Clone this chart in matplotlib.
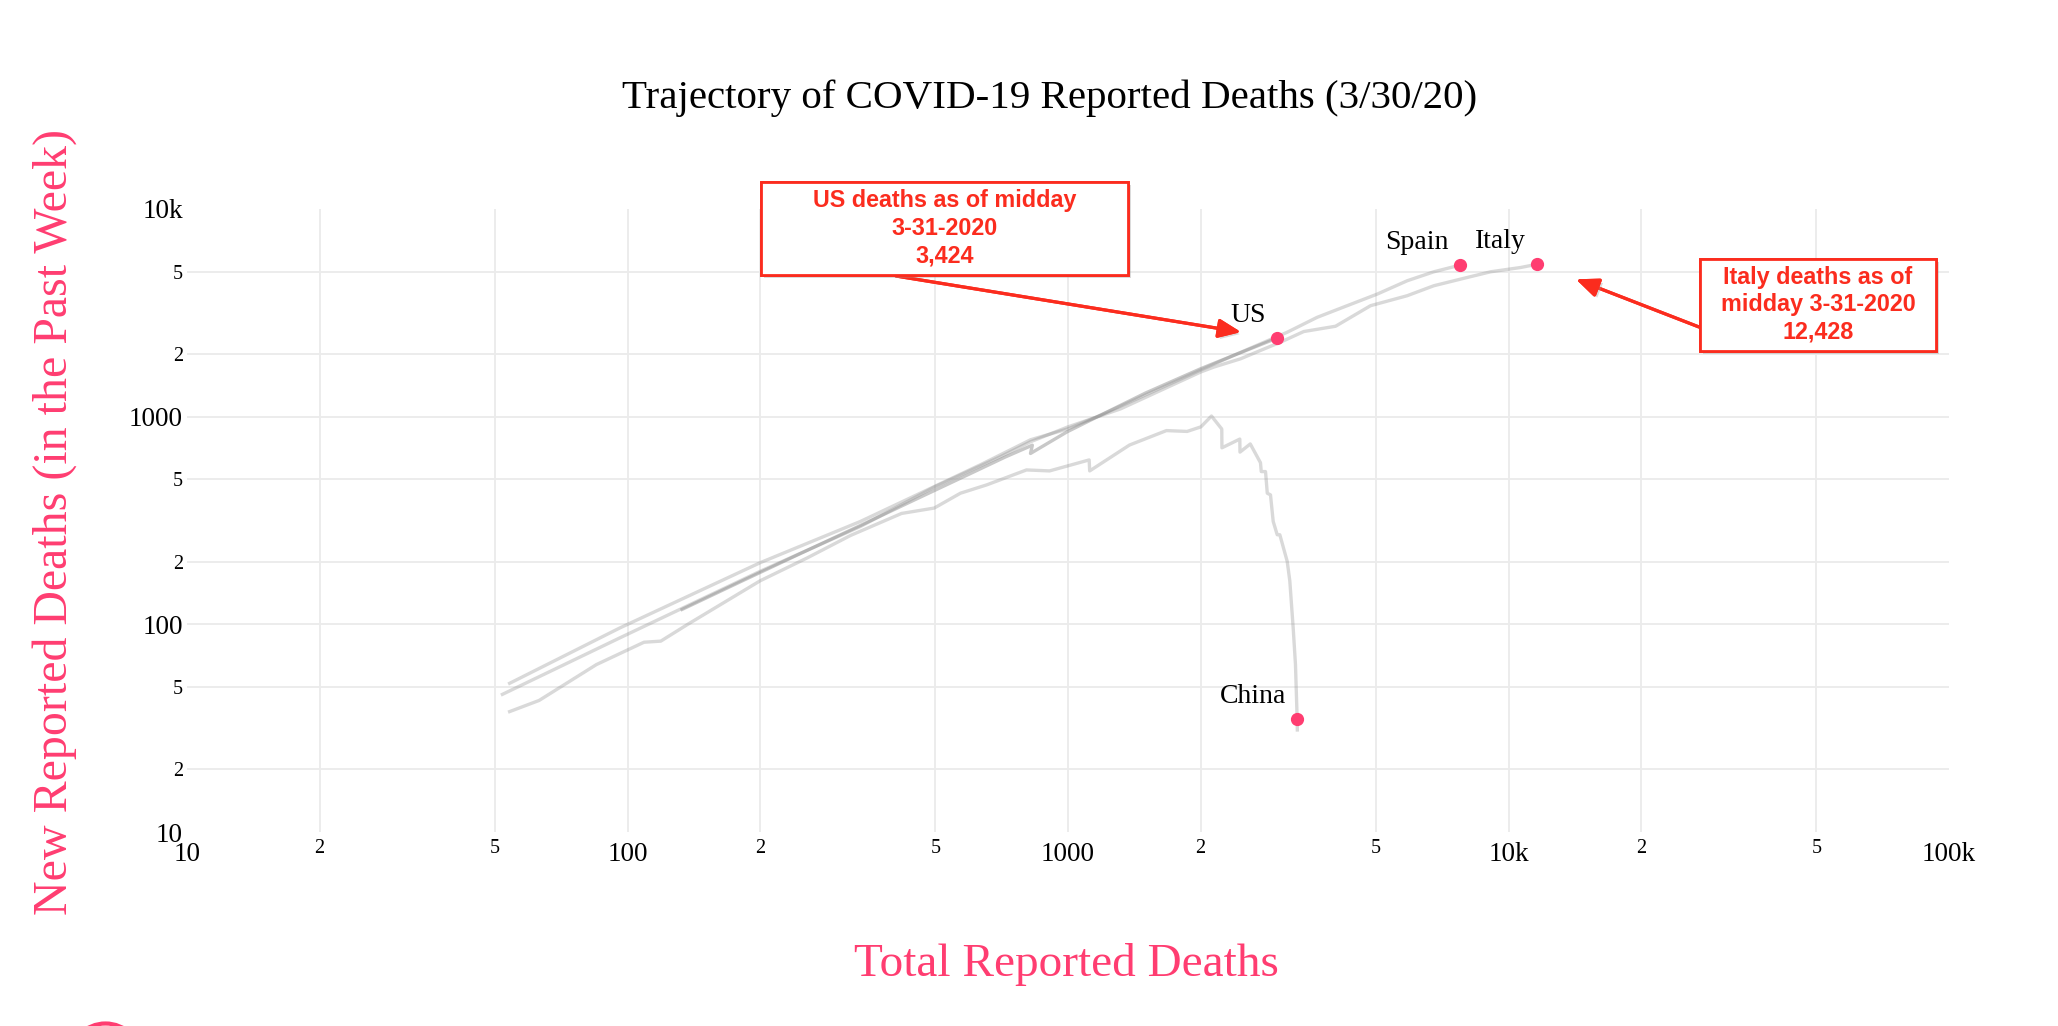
import matplotlib
matplotlib.use("Agg")
import matplotlib.pyplot as plt
import matplotlib.patheffects as pe
from matplotlib.patches import Rectangle, Circle
from matplotlib.transforms import IdentityTransform

plt.rcParams['font.family'] = ['Liberation Serif', 'DejaVu Serif']

# data: total deaths vs new deaths in the past week
spain_total = [54, 96, 200, 338, 633, 822, 1000, 1185, 2000, 2375, 3145, 3679, 4303, 5034, 5888, 6767, 7744]
spain_weekly = [52, 96, 198, 313, 587, 774, 874, 1016, 1676, 1971, 2550, 3009, 3423, 3892, 4512, 4984, 5360]

italy_total = [52, 96, 200, 338, 500, 703, 822, 1000, 1316, 2000, 2143, 2464, 2735, 3037, 3429, 4049,
               4862, 5888, 6767, 8058, 9104, 10646, 11620]
italy_weekly = [46, 86, 180, 296, 461, 642, 757, 893, 1090, 1640, 1733, 1899, 2084, 2284, 2570, 2725,
                3423, 3823, 4270, 4680, 4984, 5226, 5420]

us_total = [133, 180, 250, 340, 450, 600, 720, 830, 822, 995, 1185, 1500, 2000, 2375, 2986]
us_weekly = [118, 160, 222, 301, 399, 532, 639, 729, 665, 845, 1016, 1300, 1701, 1971, 2393]

china_total = [54, 63, 85, 109, 119, 137, 200, 256, 321, 419, 497, 570, 655, 805, 908, 1117, 1120, 1379,
               1673, 1864, 2003, 2117, 2234, 2236, 2455, 2457, 2593, 2735, 2746, 2808, 2834, 2882, 2923,
               2985, 3026, 3145, 3188, 3245, 3284, 3313, 3316]
china_weekly = [38, 43, 64, 82, 83, 100, 162, 209, 268, 342, 363, 428, 470, 554, 548, 619, 548, 730,
                857, 849, 893, 1007, 872, 708, 780, 675, 739, 600, 544, 544, 428, 420, 313,
                270, 270, 201, 162, 96, 64, 35, 31]

dot_names = ['US', 'Spain', 'Italy', 'China']
dot_total = [2986, 7744, 11620, 3313]
dot_weekly = [2393, 5360, 5420, 35]

x_major = [10, 100, 1000, 10000, 100000]
x_major_labels = ['10', '100', '1000', '10k', '100k']
x_minor = [20, 50, 200, 500, 2000, 5000, 20000, 50000]
y_major = [10, 100, 1000, 10000]
y_major_labels = ['10', '100', '1000', '10k']
y_minor = [20, 50, 200, 500, 2000, 5000]

PINK = '#ff3d71'
RED = '#fb2c1e'
W, H = 2058, 1026

fig = plt.figure(figsize=(W / 100, H / 100), dpi=100)
ax = fig.add_axes([187 / W, 1 - 832 / H, (1949 - 187) / W, (832 - 209) / H])
ax.set_xscale('log')
ax.set_yscale('log')
ax.set_xlim(10, 100000)
ax.set_ylim(10, 10000)

# lines
for tx, wy in [(spain_total, spain_weekly), (italy_total, italy_weekly), (china_total, china_weekly)]:
    ax.plot(tx, wy, color='#8c8c8c', alpha=0.33, lw=2.4, zorder=2)
ax.plot(us_total, us_weekly, color='#8c8c8c', alpha=0.48, lw=2.4, zorder=2)

ax.plot(dot_total, dot_weekly, 'o', color=PINK, ms=8.5, zorder=3)
for name, tx, wy in zip(dot_names, dot_total, dot_weekly):
    ax.annotate(name, (tx, wy), xytext=(-8, 11.5), textcoords='offset points',
                ha='right', va='baseline', fontsize=20)

# ticks and grid
ax.set_xticks(x_major, x_major_labels)
ax.set_xticks(x_minor, ['2', '5'] * 4, minor=True)
ax.set_yticks(y_major, y_major_labels)
ax.set_yticks(y_minor, ['2', '5'] * 3, minor=True)
ax.tick_params(which='both', length=0)
ax.tick_params(which='major', labelsize=19.5)
ax.tick_params(which='minor', labelsize=14.5)
ax.tick_params(axis='x', which='major', pad=7)
ax.tick_params(axis='x', which='minor', pad=5)
ax.tick_params(axis='y', which='both', pad=3)
ax.grid(True, which='both', color='#ebebeb', lw=1.3, zorder=0)
for t in ax.xaxis.get_major_ticks():
    if t.get_loc() in (10, 100000):
        t.gridline.set_visible(False)
for t in ax.yaxis.get_major_ticks():
    if t.get_loc() in (10, 10000):
        t.gridline.set_visible(False)
for s in ax.spines.values():
    s.set_visible(False)

fig.text(1050 / W, 1 - 98 / H, 'Trajectory of COVID-19 Reported Deaths (3/30/20)',
         ha='center', va='center', fontsize=29.5)
fig.text(55 / W, 1 - 522 / H, 'New Reported Deaths (in the Past Week)', rotation=90,
         ha='center', va='center', fontsize=34.5, color=PINK)
fig.text(1066 / W, 1 - 965 / H, 'Total Reported Deaths',
         ha='center', va='center', fontsize=34, color=PINK)

# red callout boxes
shadow = [pe.withSimplePatchShadow(offset=(2, -2), shadow_rgbFace='#999999', alpha=0.35), pe.Normal()]


def callout(x0, y0, x1, y1, text):
    box = Rectangle((x0 / W, 1 - y1 / H), (x1 - x0) / W, (y1 - y0) / H, transform=fig.transFigure,
                    facecolor='white', edgecolor=RED, lw=2, zorder=5, path_effects=shadow)
    fig.add_artist(box)
    fig.text((x0 + x1) / 2 / W, 1 - (y0 + y1) / 2 / H, text, ha='center', va='center',
             fontsize=16.8, fontweight='bold', color=RED, family='Liberation Sans',
             linespacing=1.25, zorder=6)


callout(761, 182, 1128, 275, 'US deaths as of midday\n3-31-2020\n3,424')
callout(1700, 259, 1936, 351, 'Italy deaths as of\nmidday 3-31-2020\n12,428')

arrow = dict(arrowstyle='-|>,head_length=0.9,head_width=0.38', color=RED, lw=2.3,
             mutation_scale=15, shrinkA=0, path_effects=shadow)
ax.annotate('', xy=(dot_total[0], dot_weekly[0]), xytext=(896 / W, 1 - 276 / H),
            textcoords='figure fraction', arrowprops=dict(arrow, shrinkB=26.5), annotation_clip=False)
ax.annotate('', xy=(dot_total[2], dot_weekly[2]), xytext=(1699 / W, 1 - 327 / H),
            textcoords='figure fraction', arrowprops=dict(arrow, shrinkB=30), annotation_clip=False)

# partial logo at bottom left
fig.add_artist(Circle((105.5, -33.5), 36, transform=IdentityTransform(), fill=False,
                      edgecolor=PINK, lw=3))

fig.savefig('out.png', dpi=100, facecolor='white')
